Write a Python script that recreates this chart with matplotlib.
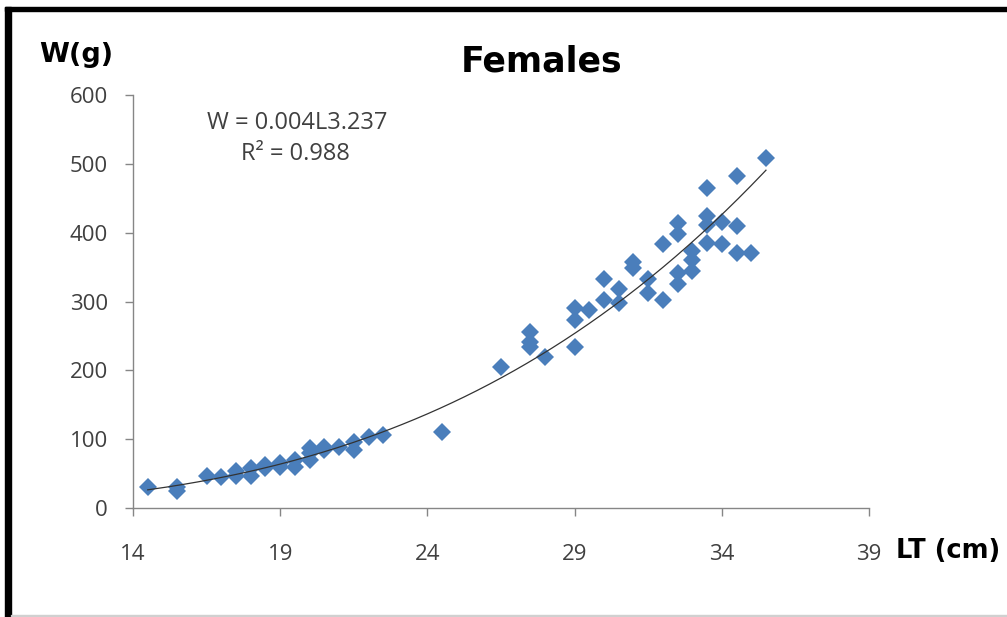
import numpy as np
import matplotlib
matplotlib.use("Agg")
import matplotlib.pyplot as plt
from matplotlib.patches import Rectangle

# total length (cm) and weight (g)
lt = [14.5, 15.5, 15.5, 16.5, 17.0, 17.5, 17.5, 18.0, 18.0, 18.5, 18.5,
      19.0, 19.0, 19.5, 19.5, 20.0, 20.0, 20.0, 20.5, 20.5, 21.0, 21.5,
      21.5, 22.0, 22.5, 24.5,
      26.5, 27.5, 27.5, 27.5, 28.0, 29.0, 29.0, 29.0, 29.5, 30.0, 30.0,
      30.5, 30.5, 31.0, 31.0, 31.5, 31.5, 32.0, 32.0, 32.5, 32.5, 32.5,
      32.5, 33.0, 33.0, 33.0, 33.5, 33.5, 33.5, 33.5, 34.0, 34.0, 34.5,
      34.5, 34.5, 35.0, 35.5]
w = [30, 30, 24, 47, 45, 54, 47, 58, 47, 62, 58,
     66, 60, 70, 60, 87, 80, 70, 89, 84, 88, 96,
     84, 103, 106, 110,
     205, 255, 241, 234, 219, 290, 273, 234, 287, 332, 302,
     318, 298, 357, 348, 332, 313, 384, 302, 414, 398, 342,
     326, 374, 360, 345, 465, 424, 411, 385, 415, 384, 482,
     410, 370, 370, 508]

x_ticks = [14, 19, 24, 29, 34, 39]
y_ticks = [0, 100, 200, 300, 400, 500, 600]

W, H = 1007, 617
fig = plt.figure(figsize=(W / 100, H / 100), dpi=100)
ax = fig.add_axes([133 / W, 1 - 508 / H, (869 - 133) / W, (508 - 95) / H])

# power trendline (fit in log-log space, like Excel)
b, log_a = np.polyfit(np.log(lt), np.log(w), 1)
xs = np.linspace(min(lt), max(lt), 200)
ax.plot(xs, np.exp(log_a) * xs ** b, color="#333333", lw=0.9, zorder=3)

ax.plot(lt, w, "D", ms=9.6, color="#4A7EBB", mec="#4A7EBB", mew=0, zorder=2)

ax.set_xlim(14, 39)
ax.set_ylim(0, 600)
ax.set_xticks(x_ticks)
ax.set_yticks(y_ticks)

for s in ["top", "right"]:
    ax.spines[s].set_visible(False)
for s in ["left", "bottom"]:
    ax.spines[s].set_color("#868686")
    ax.spines[s].set_linewidth(1.0)

ax.tick_params(axis="x", direction="out", length=6, width=1, color="#868686",
               pad=20, labelsize=16, labelcolor="#404040")
ax.tick_params(axis="y", direction="out", length=6, width=1, color="#868686",
               pad=12, labelsize=16, labelcolor="#404040")
for lab in ax.get_xticklabels() + ax.get_yticklabels():
    lab.set_fontfamily("Open Sans")

fig.text(542 / W, 1 - 62 / H, "Females", ha="center", va="center",
         fontsize=25, fontweight="bold", family="DejaVu Sans")
fig.text(76 / W, 1 - 55 / H, "W(g)", ha="center", va="center",
         fontsize=19.5, fontweight="bold", family="DejaVu Sans")
fig.text(948 / W, 1 - 551 / H, "LT (cm)", ha="center", va="center",
         fontsize=18.5, fontweight="bold", family="DejaVu Sans")

fig.text(297 / W, 1 - 123 / H, "W = 0.004L3.237", ha="center", va="center",
         fontsize=17, color="#404040", family="Open Sans")
fig.text(295 / W, 1 - 154 / H, "R² = 0.988", ha="center", va="center",
         fontsize=17, color="#404040", family="Open Sans")

# frame around the picture
fig.patches.append(Rectangle((5 / W, 0), 6 / W, 1 - 7 / H, transform=fig.transFigure,
                             color="black", zorder=10))
fig.patches.append(Rectangle((5 / W, 1 - 11 / H), 1 - 5 / W, 4 / H,
                             transform=fig.transFigure, color="black", zorder=10))
fig.patches.append(Rectangle((11 / W, 1 - 616 / H), 1 - 11 / W, 1 / H,
                             transform=fig.transFigure, color="#d0d0d0", zorder=10))

fig.savefig("out.png", dpi=100)
